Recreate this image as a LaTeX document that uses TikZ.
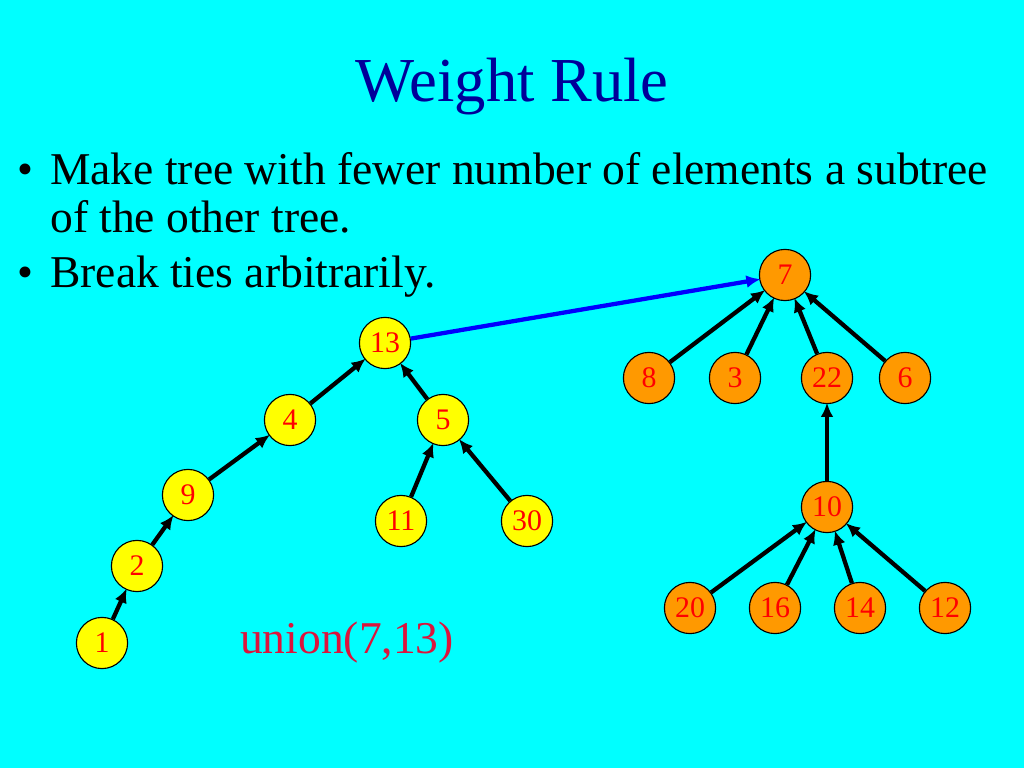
\documentclass[tikz,border=0pt]{standalone}
\usepackage{fontspec}
\setmainfont{Liberation Serif}
\usetikzlibrary{arrows.meta}
\definecolor{bg}{RGB}{0,255,255}
\definecolor{titleblue}{RGB}{0,0,153}
\definecolor{ylw}{RGB}{255,255,0}
\definecolor{orng}{RGB}{255,153,0}
\definecolor{crim}{RGB}{220,20,60}
\begin{document}
\begin{tikzpicture}[x=0.703125pt,y=-0.703125pt,
  tn/.style={circle,draw=black,line width=0.8pt,minimum size=36pt,inner sep=0pt,text=red,font=\fontsize{21}{21}\selectfont},
  yn/.style={tn,fill=ylw},
  on/.style={tn,fill=orng},
  edge/.style={line width=3pt,-{Latex[length=10pt,width=9pt]},shorten >=-1pt},
  uedge/.style={line width=3pt,blue,-{Latex[length=10pt,width=9pt]},shorten >=-1pt},
  bul/.style={anchor=base west,font=\fontsize{32}{32}\selectfont,inner sep=0pt},
  txt/.style={anchor=base west,font=\fontsize{32}{32}\selectfont,inner sep=0pt}]
\fill[bg] (0,0) rectangle (1024,768);
\useasboundingbox (0,0) rectangle (1024,768);
\node[text=titleblue,font=\fontsize{44}{44}\selectfont] (title) at (512,87) {Weight Rule};
\node[bul] (b1) at (17,185) {•};
\node[txt] (t1) at (50,185) {Make tree with fewer number of elements a subtree};
\node[txt] (t2) at (50,233) {of the other tree.};
\node[bul] (b2) at (17,288) {•};
\node[txt] (t3) at (50,288) {Break ties arbitrarily.};
% left tree
\node[yn] (n13) at (385,343) {13};
\node[yn] (n4) at (290,420) {4};
\node[yn] (n5) at (443,420) {5};
\node[yn] (n9) at (188,495) {9};
\node[yn] (n2) at (137,566) {2};
\node[yn] (n1) at (102,643) {1};
\node[yn] (n11) at (401,521) {11};
\node[yn] (n30) at (527,521) {30};
% right tree
\node[on] (n7) at (785,275) {7};
\node[on] (n8) at (649,378) {8};
\node[on] (n3) at (735,378) {3};
\node[on] (n22) at (827,378) {22};
\node[on] (n6) at (905,378) {6};
\node[on] (n10) at (827,507) {10};
\node[on] (n20) at (690,608) {20};
\node[on] (n16) at (775,608) {16};
\node[on] (n14) at (860,608) {14};
\node[on] (n12) at (945,608) {12};
\node[text=crim,font=\fontsize{32}{32}\selectfont] (un) at (347,643) {union(7,13)};
% edges
\draw[edge] (n1) -- (n2);
\draw[edge] (n2) -- (n9);
\draw[edge] (n9) -- (n4);
\draw[edge] (n4) -- (n13);
\draw[edge] (n5) -- (n13);
\draw[edge] (n11) -- (n5);
\draw[edge] (n30) -- (n5);
\draw[edge] (n8) -- (n7);
\draw[edge] (n3) -- (n7);
\draw[edge] (n22) -- (n7);
\draw[edge] (n6) -- (n7);
\draw[edge] (n10) -- (n22);
\draw[edge] (n20) -- (n10);
\draw[edge] (n16) -- (n10);
\draw[edge] (n14) -- (n10);
\draw[edge] (n12) -- (n10);
\draw[uedge] (n13) -- (n7);
\end{tikzpicture}
\end{document}
